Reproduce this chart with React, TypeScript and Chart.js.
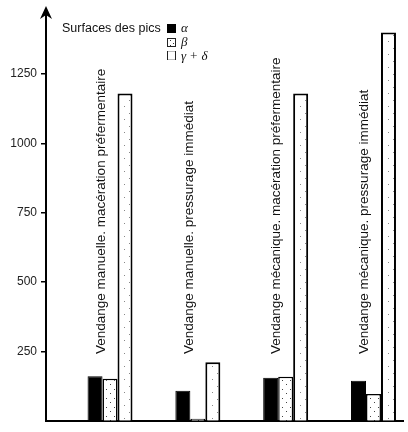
import React, { useEffect, useRef } from 'react';
import { Chart, registerables } from 'chart.js';

Chart.register(...registerables);

// ---- data ----
const categories = [
  'Vendange manuelle. macération préfermentaire',
  'Vendange manuelle. pressurage immédiat',
  'Vendange mécanique. macération préfermentaire',
  'Vendange mécanique. pressurage immédiat',
];
const categoryPositions = [1, 2, 3, 4];
const alphaValues = [161, 108, 155, 144];
const betaValues = [152, 7, 159, 97];
const gammaDeltaValues = [1180, 211, 1180, 1400];
const yTickValues = [250, 500, 750, 1000, 1250];
const legendTitle = 'Surfaces des pics';
const seriesNames = ['α', 'β', 'γ + δ'];

// ---- style constants ----
const SANS = '"Liberation Sans", Arial, sans-serif';
const SERIF = '"Liberation Serif", "Times New Roman", serif';
const LABEL_OFFSET = -9;
const LABEL_BOTTOM = 354;

function makePattern(kind: 'dense' | 'sparse'): CanvasPattern | string {
  const c = document.createElement('canvas');
  const g = c.getContext('2d');
  if (!g) return '#fff';
  if (kind === 'dense') {
    c.width = 8;
    c.height = 9;
    g.fillStyle = '#fff';
    g.fillRect(0, 0, 8, 9);
    g.fillStyle = '#444';
    g.fillRect(2, 2, 1, 1);
    g.fillRect(6, 6, 1, 1);
  } else {
    c.width = 11;
    c.height = 13;
    g.fillStyle = '#fff';
    g.fillRect(0, 0, 11, 13);
    g.fillStyle = '#888';
    g.fillRect(3, 2, 1, 1);
    g.fillRect(8, 9, 1, 1);
  }
  return g.createPattern(c, 'repeat') || '#fff';
}

const decorPlugin = {
  id: 'decor',
  afterDatasetsDraw(chart: any) {
    const ctx: CanvasRenderingContext2D = chart.ctx;
    const xs = chart.scales.x;
    const area = chart.chartArea;
    ctx.save();
    // rotated category labels
    ctx.font = `13.5px ${SANS}`;
    ctx.fillStyle = '#111';
    ctx.textAlign = 'left';
    ctx.textBaseline = 'middle';
    categories.forEach((lab, i) => {
      const px = xs.getPixelForValue(categoryPositions[i]) + LABEL_OFFSET;
      ctx.save();
      ctx.translate(px, LABEL_BOTTOM);
      ctx.rotate(-Math.PI / 2);
      ctx.fillText(lab, 0, 0);
      ctx.restore();
    });

    // y axis arrow
    const ax = area.left;
    ctx.strokeStyle = '#000';
    ctx.lineWidth = 2;
    ctx.beginPath();
    ctx.moveTo(ax, area.top);
    ctx.lineTo(ax, 12);
    ctx.stroke();
    ctx.fillStyle = '#000';
    ctx.beginPath();
    ctx.moveTo(ax, 6);
    ctx.lineTo(ax - 6, 19);
    ctx.lineTo(ax, 15);
    ctx.lineTo(ax + 6, 19);
    ctx.closePath();
    ctx.fill();

    // legend
    ctx.textAlign = 'left';
    ctx.textBaseline = 'alphabetic';
    ctx.font = `12.5px ${SANS}`;
    ctx.fillStyle = '#111';
    ctx.fillText(legendTitle, 62, 32);
    // alpha icon
    ctx.fillStyle = '#000';
    ctx.fillRect(167, 24, 9, 9);
    // beta icon
    ctx.fillStyle = '#fff';
    ctx.fillRect(167, 38, 9, 9);
    ctx.fillStyle = '#333';
    ctx.fillRect(170, 40, 1, 1);
    ctx.fillRect(173, 43, 1, 1);
    ctx.fillRect(170, 45, 1, 1);
    ctx.lineWidth = 1;
    ctx.strokeStyle = '#222';
    ctx.strokeRect(167.5, 38.5, 8, 8);
    // gamma+delta icon
    ctx.strokeStyle = '#bbb';
    ctx.beginPath();
    ctx.moveTo(167, 51.5);
    ctx.lineTo(176, 51.5);
    ctx.moveTo(167, 59.5);
    ctx.lineTo(176, 59.5);
    ctx.stroke();
    ctx.strokeStyle = '#222';
    ctx.beginPath();
    ctx.moveTo(167.5, 51);
    ctx.lineTo(167.5, 60);
    ctx.moveTo(175.5, 51);
    ctx.lineTo(175.5, 60);
    ctx.stroke();
    ctx.fillStyle = '#111';
    ctx.font = `italic 13px ${SERIF}`;
    ctx.fillText(seriesNames[0], 181, 32);
    ctx.fillText(seriesNames[1], 181, 46);
    ctx.fillText(seriesNames[2], 181, 60);
    ctx.restore();
  },
};

export default function App() {
  const ref = useRef<HTMLCanvasElement | null>(null);
  useEffect(() => {
    if (!ref.current) return;
    const toXY = (vals: number[]) => vals.map((v, i) => ({ x: categoryPositions[i], y: v }));
    const chart = new Chart(ref.current, {
      type: 'bar',
      data: {
        datasets: [
          {
            label: seriesNames[0],
            data: toXY(alphaValues),
            backgroundColor: '#000',
            borderColor: '#000',
            borderWidth: 1,
          },
          {
            label: seriesNames[1],
            data: toXY(betaValues),
            backgroundColor: makePattern('dense') as any,
            borderColor: '#000',
            borderWidth: 1.5,
          },
          {
            label: seriesNames[2],
            data: toXY(gammaDeltaValues),
            backgroundColor: makePattern('sparse') as any,
            borderColor: '#000',
            borderWidth: 2,
          },
        ],
      },
      options: {
        responsive: false,
        animation: false,
        layout: { padding: { top: 20, right: 5, bottom: 3, left: 0 } },
        plugins: { legend: { display: false }, tooltip: { enabled: false } },
        datasets: { bar: { categoryPercentage: 0.512, barPercentage: 1 } } as any,
        scales: {
          x: {
            type: 'linear',
            offset: false,
            min: 0.271,
            max: 4.336,
            ticks: { display: false },
            afterBuildTicks: (s: any) => {
              s.ticks = categoryPositions.map((v) => ({ value: v }));
            },
            grid: { display: false, offset: false },
            border: { display: true, color: '#000', width: 2 },
            afterFit: (s: any) => {
              s.height = 0;
            },
          },
          y: {
            min: 0,
            max: 1445,
            ticks: {
              font: { family: SANS, size: 12 },
              color: '#222',
              padding: 4,
              callback: (v: any) => String(v),
            },
            afterBuildTicks: (s: any) => {
              s.ticks = yTickValues.map((v) => ({ value: v }));
            },
            grid: {
              display: true,
              drawOnChartArea: false,
              drawTicks: true,
              tickLength: 5,
              color: '#000',
              lineWidth: 1.5,
            },
            border: { display: true, color: '#000', width: 2 },
            afterFit: (s: any) => {
              s.width = 46;
            },
          },
        },
      },
      plugins: [decorPlugin],
    });
    return () => chart.destroy();
  }, []);
  return (
    <div style={{ position: 'fixed', left: 0, top: 0, width: 408, height: 432, background: '#fff' }}>
      <canvas ref={ref} width={408} height={432} style={{ display: 'block' }} />
    </div>
  );
}
